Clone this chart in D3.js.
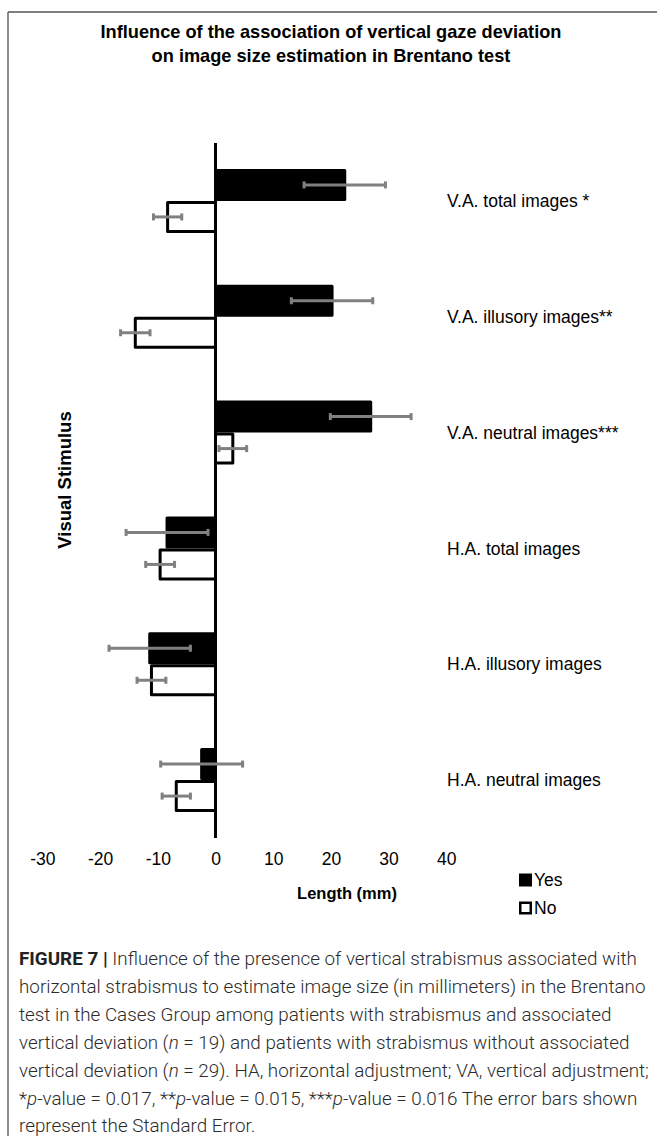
<!DOCTYPE html>
<html>
<head>
<meta charset="utf-8">
<script src="https://cdn.jsdelivr.net/npm/d3@7"></script>
<style>
  body { margin: 0; background: #fff; }
  svg { display: block; }
  text { font-family: "Liberation Sans", Arial, sans-serif; }
  .caption text { font-family: Roboto, "Liberation Sans", sans-serif; }
</style>
</head>
<body>
<svg id="fig" width="657" height="1136"></svg>
<script>
//////////////////////////////////////
// Data

const categories = ["V.A. total images *", "V.A. illusory images**", "V.A. neutral images***",
  "H.A. total images", "H.A. illusory images", "H.A. neutral images"]
const seriesNames = ["Yes", "No"]
const yesValues = [22.4, 20.2, 26.9, -8.4, -11.4, -2.4]
const yesErrors = [7.05, 7.05, 7.0, 7.1, 7.05, 7.1]
const noValues = [-8.3, -13.9, 3.0, -9.6, -11.1, -6.8]
const noErrors = [2.45, 2.55, 2.4, 2.5, 2.5, 2.45]
const xTicks = [-30, -20, -10, 0, 10, 20, 30, 40]

const titleLines = ["Influence of the association of vertical gaze deviation",
  "on image size estimation in Brentano test"]

// caption, each line is a list of [text, style] pieces
const captionLines = [
  [["FIGURE 7 | ", "b"], ["Influence of the presence of vertical strabismus associated with", ""]],
  [["horizontal strabismus to estimate image size (in millimeters) in the Brentano", ""]],
  [["test in the Cases Group among patients with strabismus and associated", ""]],
  [["vertical deviation (", ""], ["n", "i"], [" = 19) and patients with strabismus without associated", ""]],
  [["vertical deviation (", ""], ["n", "i"], [" = 29). HA, horizontal adjustment; VA, vertical adjustment;", ""]],
  [["*", ""], ["p", "i"], ["-value = 0.017, **", ""], ["p", "i"], ["-value = 0.015, ***", ""], ["p", "i"], ["-value = 0.016 The error bars shown", ""]],
  [["represent the Standard Error.", ""]]
]

//////////////////////////////////////
// Layout

const plot = {left: 42.4, right: 446.3, top: 143, bottom: 838}
const svg = d3.select("#fig")

// frame (cropped figure border)
svg.append("line").attr("x1", 8).attr("x2", 657).attr("y1", 12).attr("y2", 12)
  .attr("stroke", "#555").attr("stroke-width", 1.5)
svg.append("line").attr("x1", 8).attr("x2", 8).attr("y1", 12).attr("y2", 1136)
  .attr("stroke", "#666").attr("stroke-width", 1.5)

//////////////////////////////////////
// Title

const title = svg.append("g")
title.selectAll("text").data(titleLines).enter().append("text")
  .attr("x", 331)
  .attr("y", (d, i) => 38 + i * 24)
  .attr("text-anchor", "middle")
  .attr("font-weight", "bold")
  .attr("font-size", 16)
  .text(d => d)

// fit title to the width it has in the figure
var tw = title.select("text").node().getComputedTextLength()
title.selectAll("text").attr("font-size", 16 * 461 / tw)

//////////////////////////////////////
// Scales

var x = d3.scaleLinear().domain([-30, 40]).range([plot.left, plot.right])

var y = d3.scaleBand().domain(categories)
  .range([plot.top, plot.bottom])
  .paddingInner(0.4475).paddingOuter(0.22375)

var ySub = d3.scaleBand().domain(seriesNames).range([0, y.bandwidth()])

const rows = categories.map(function(c, i) {
  return [
    {cat: c, series: "Yes", value: yesValues[i], err: yesErrors[i]},
    {cat: c, series: "No", value: noValues[i], err: noErrors[i]}
  ]
}).flat()

//////////////////////////////////////
// Bars

const bars = svg.append("g")
bars.selectAll("rect").data(rows).enter().append("rect")
  .attr("x", d => x(Math.min(0, d.value)))
  .attr("width", d => Math.abs(x(d.value) - x(0)))
  .attr("y", d => y(d.cat) + ySub(d.series) + 1.5)
  .attr("height", ySub.bandwidth() - 3)
  .attr("fill", d => d.series == "Yes" ? "#000" : "#fff")
  .attr("stroke", "#000")
  .attr("stroke-width", 3)
  .attr("stroke-linejoin", "round")

// zero axis
svg.append("line")
  .attr("x1", x(0)).attr("x2", x(0))
  .attr("y1", plot.top).attr("y2", plot.bottom)
  .attr("stroke", "#000").attr("stroke-width", 3)

// error bars
const errs = svg.append("g").attr("stroke", "#808080").attr("stroke-width", 3)
errs.selectAll("g").data(rows).enter().append("g")
  .attr("transform", d => "translate(0," + (y(d.cat) + ySub(d.series) + ySub.bandwidth() / 2) + ")")
  .each(function(d) {
    var g = d3.select(this)
    g.append("line").attr("x1", x(d.value - d.err)).attr("x2", x(d.value + d.err))
    g.append("line").attr("x1", x(d.value - d.err)).attr("x2", x(d.value - d.err)).attr("y1", -3.5).attr("y2", 3.5)
    g.append("line").attr("x1", x(d.value + d.err)).attr("x2", x(d.value + d.err)).attr("y1", -3.5).attr("y2", 3.5)
  })

// category labels on the right
svg.append("g").selectAll("text").data(categories).enter().append("text")
  .attr("x", 447)
  .attr("y", d => y(d) + y.bandwidth() / 2)
  .attr("dy", "0.35em")
  .attr("font-size", 17.5)
  .text(d => d)

//////////////////////////////////////
// Axis

svg.append("g")
  .attr("transform", "translate(0,853)")
  .call(d3.axisBottom(x).tickValues(xTicks).tickSize(0).tickPadding(0)
    .tickFormat(d => d.toString()))  // plain hyphen, as in the figure
  .call(g => g.select(".domain").remove())
  .selectAll("text")
  .attr("font-family", "Liberation Sans, Arial, sans-serif")
  .attr("font-size", 17.5)
  .attr("fill", "#000")

svg.append("text")
  .attr("x", 347).attr("y", 899)
  .attr("text-anchor", "middle")
  .attr("font-weight", "bold")
  .attr("font-size", 16.5)
  .text("Length (mm)")

svg.append("text")
  .attr("transform", "translate(71,480) rotate(-90)")
  .attr("text-anchor", "middle")
  .attr("font-weight", "bold")
  .attr("font-size", 18.5)
  .text("Visual Stimulus")

//////////////////////////////////////
// Legend

const legend = svg.append("g").selectAll("g").data(seriesNames).enter().append("g")
  .attr("transform", (d, i) => "translate(519," + (880 + i * 28) + ")")
legend.append("rect")
  .attr("x", 1.25).attr("y", -5.25).attr("width", 10.5).attr("height", 10.5)
  .attr("fill", d => d == "Yes" ? "#000" : "#fff")
  .attr("stroke", "#000").attr("stroke-width", 2.5)
legend.append("text")
  .attr("x", 15).attr("dy", "0.35em")
  .attr("font-size", 17.5)
  .text(d => d)

//////////////////////////////////////
// Caption

const cap = svg.append("g").attr("class", "caption")
const capText = cap.selectAll("text").data(captionLines).enter().append("text")
  .attr("x", 19)
  .attr("y", (d, i) => 965 + i * 27.9)
  .attr("font-size", 18)
  .attr("font-weight", 300)
  .attr("fill", "#2b2b2b")
capText.selectAll("tspan").data(d => d).enter().append("tspan")
  .attr("font-weight", d => d[1] == "b" ? 700 : null)
  .attr("fill", d => d[1] == "b" ? "#222" : null)
  .attr("font-style", d => d[1] == "i" ? "italic" : null)
  .text(d => d[0])

// widest line runs to about x=650 in the figure
var widest = d3.max(capText.nodes(), n => n.getComputedTextLength())
capText.attr("font-size", 18 * 630 / widest)
</script>
</body>
</html>
